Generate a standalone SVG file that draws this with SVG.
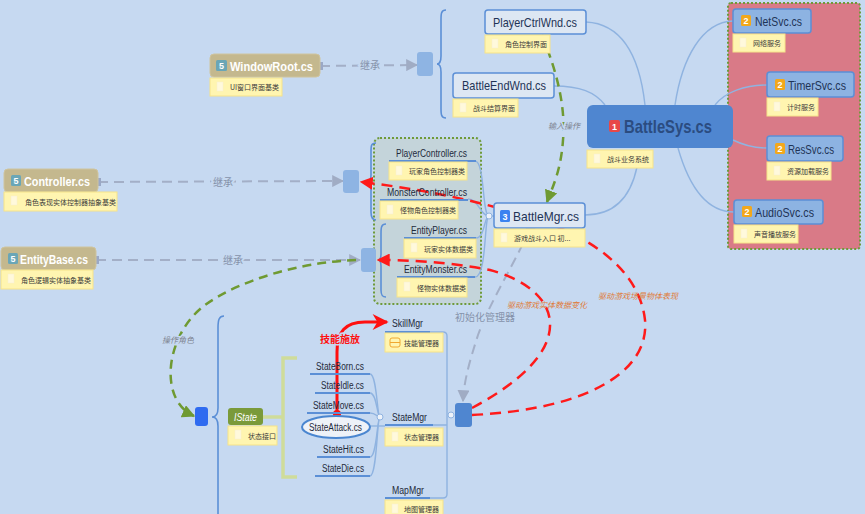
<svg xmlns="http://www.w3.org/2000/svg" width="865" height="514" viewBox="0 0 865 514">
<defs>
<marker id="ag" viewBox="0 0 10 10" refX="9" refY="5" markerWidth="12" markerHeight="12" markerUnits="userSpaceOnUse" orient="auto"><path d="M0,0 L10,5 L0,10 Z" fill="#a0acc4"/></marker>
<marker id="ar" viewBox="0 0 10 10" refX="9" refY="5" markerWidth="13" markerHeight="13" markerUnits="userSpaceOnUse" orient="auto"><path d="M0,0 L10,5 L0,10 Z" fill="#ff1a1a"/></marker>
<marker id="ar2" viewBox="0 0 10 10" refX="9" refY="5" markerWidth="18" markerHeight="16" markerUnits="userSpaceOnUse" orient="auto"><path d="M0,0 L10,5 L0,10 L3,5 Z" fill="#ff1010"/></marker>
<marker id="agr" viewBox="0 0 10 10" refX="9" refY="5" markerWidth="13" markerHeight="13" markerUnits="userSpaceOnUse" orient="auto"><path d="M0,0 L10,5 L0,10 Z" fill="#6f9a32"/></marker>
</defs>
<style>
.note{fill:#fff5b0;stroke:#f6e38a;stroke-width:1}
.ic{fill:#fff9dc;stroke:#f6efd0;stroke-width:.5}
.nt{font-family:"Noto Sans CJK SC",sans-serif;font-size:7px;fill:#3a3a3a}
.tan{fill:#c4b88e;stroke:#cfc49e;stroke-width:1}
.tt{font-family:"Liberation Sans",Arial,sans-serif;font-weight:bold;font-size:13px;fill:#ffffff}
.lt{fill:#dde7f3;stroke:#5b8fd6;stroke-width:1.5}
.svc{fill:#8db3e2;stroke:#5b8fd6;stroke-width:1.5}
.nx{font-family:"Liberation Sans",Arial,sans-serif;font-size:13px;fill:#1f3456}
.sx{font-family:"Liberation Sans",Arial,sans-serif;font-size:10px;fill:#1e2a3a}
.b5{fill:#6aa6b6}
.b2{fill:#f2a81c}
.bd{font-family:"Liberation Sans",Arial,sans-serif;font-weight:bold;font-size:9px;fill:#fff}
.br{fill:none;stroke:#5b8fd6;stroke-width:1.6}
.cl{fill:none;stroke:#8fb3e0;stroke-width:1.4}
.ul{stroke:#5b8fd6;stroke-width:2}
.gd{fill:none;stroke:#a3afc7;stroke-width:2;stroke-dasharray:10 6}
.rd{fill:none;stroke:#ff1a1a;stroke-width:2.5;stroke-dasharray:11 7}
.grd{fill:none;stroke:#6f9a32;stroke-width:2.5;stroke-dasharray:9 6}
.lbl{font-family:"Noto Sans CJK SC",sans-serif;font-size:10px;fill:#8592aa;paint-order:stroke;stroke:#c6d9f1;stroke-width:4}
.il{font-family:"Noto Sans CJK SC",sans-serif;font-size:8px;font-style:italic;fill:#7d8390;paint-order:stroke;stroke:#c6d9f1;stroke-width:3}
.ol{font-family:"Noto Sans CJK SC",sans-serif;font-size:8px;font-style:italic;fill:#e07a36}
.sm{fill:#8eb4e3}
.circ{fill:#eef3fa;stroke:#8fb3e0;stroke-width:1}
</style>
<rect x="0" y="0" width="865" height="514" fill="#c6d9f1"/>

<g id="region-services"><rect x="728" y="3" width="132" height="246" rx="3" fill="#d97a87" stroke="#6e9a3a" stroke-width="2" stroke-dasharray="2 2"/></g>
<g id="region-entities"><rect x="374" y="138" width="107" height="166" rx="6" fill="#c4d4da" stroke="#6e9a3a" stroke-width="2" stroke-dasharray="2 2"/></g>

<g id="connectors">
<path class="cl" d="M645,105 C640,60 625,24 586,22"/>
<path class="cl" d="M605,105 C595,92 580,86 554,86"/>
<path class="cl" d="M675,105 C682,58 702,22 733,21"/>
<path class="cl" d="M715,105 C725,92 745,85 767,85"/>
<path class="cl" d="M733,140 C745,146 755,148 767,148"/>
<path class="cl" d="M678,148 C690,190 708,212 734,212"/>
<path class="cl" d="M637,167 C630,200 612,215 585,215"/>
<path class="br" d="M446,10 C441,10 441,14 441,20 L441,56 C441,61 440,64 437,64 C440,64 441,67 441,72 L441,108 C441,114 441,118 446,118"/>
<path class="br" d="M376,143 C371,143 371,146 371,152 L371,175 C371,179 370,181 368,181 C370,181 371,183 371,187 L371,212 C371,217 372,220 376,220"/>
<path class="br" d="M386,224 C381,224 381,228 381,234 L381,254 C381,258 380,260 378,260 C380,260 381,262 381,266 L381,290 C381,295 382,297 386,297"/>
<path class="br" d="M224,316 C219,316 218,320 218,328 L218,408 C218,414 216,417 212,417 C216,417 218,420 218,426 L218,514"/>
<path class="cl" d="M475,161 C485,161 482,216 489,216"/>
<path class="cl" d="M468,199 C479,199 480,216 489,216"/>
<path class="cl" d="M476,238 C485,238 484,216 489,216"/>
<path class="cl" d="M475,277 C487,277 484,216 489,216"/>
<line class="cl" x1="489" y1="216" x2="494" y2="216"/>
<circle class="circ" cx="489" cy="216" r="3"/>
<path d="M263,417 L283,417 M297,358 L283,358 L283,477 L297,477" fill="none" stroke="#cfdc9a" stroke-width="3.5"/>
<path class="cl" d="M370,374 C377,374 377,417 380,417"/>
<path class="cl" d="M370,393 C377,393 377,417 380,417"/>
<path class="cl" d="M370,413 C376,413 377,417 380,417"/>
<path class="cl" d="M370,426 L385,426"/>
<path class="cl" d="M370,457 C377,457 377,417 380,417"/>
<path class="cl" d="M370,476 C377,476 377,417 380,417"/>
<circle class="circ" cx="380" cy="417" r="3"/>
<path class="cl" d="M430,332 L443,332 Q447,332 447,336 L447,494 Q447,498 443,498 L430,498 M433,425 L447,425"/>
<circle class="circ" cx="451" cy="415" r="3"/>
<path class="gd" d="M320,66 L417,65" marker-end="url(#ag)"/>
<path class="gd" d="M98,182 L343,181" marker-end="url(#ag)"/>
<path class="gd" d="M96,260 L360,260" marker-end="url(#ag)"/>
<path class="gd" d="M530,229 C512,268 490,302 478,335 C470,360 464,380 463,401" marker-end="url(#ag)"/>
<path class="grd" d="M542,35 C556,70 566,105 563,140 C561,170 553,186 547,202" marker-end="url(#agr)"/>
<path class="grd" d="M356,260 C300,262 240,280 205,305 C165,335 158,400 194,416" marker-end="url(#agr)"/>
<path class="rd" d="M472,408 C515,385 552,355 550,322 C548,295 520,278 490,270 C450,262 410,260 378,260" marker-end="url(#ar)"/>
<path class="rd" d="M472,415 C580,410 650,375 645,320 C640,275 600,245 560,228 C500,205 430,190 361,182" marker-end="url(#ar)"/>
<path d="M337,414 L337,352 C337,332 345,322 365,322 L387,322" fill="none" stroke="#ff1010" stroke-width="3" marker-end="url(#ar2)"/>
<circle cx="337" cy="414" r="4" fill="#ff1010"/>
<rect x="316" y="62" width="7" height="8" fill="#9aa8c6"/>
<rect x="94" y="178" width="7" height="8" fill="#9aa8c6"/>
<rect x="92" y="256" width="7" height="8" fill="#9aa8c6"/>
<rect x="527" y="225" width="7" height="7" fill="#9aa8c6" transform="rotate(45 530.5 228.5)"/>
<text class="lbl" x="370" y="69" text-anchor="middle">继承</text>
<text class="lbl" x="223" y="186" text-anchor="middle">继承</text>
<text class="lbl" x="233" y="264" text-anchor="middle">继承</text>
<text class="lbl" x="485" y="321" text-anchor="middle" font-size="11">初始化管理器</text>
<text class="il" x="564" y="129" text-anchor="middle">输入操作</text>
<text class="il" x="178" y="343" text-anchor="middle">操作角色</text>
<text class="ol" x="547" y="308" text-anchor="middle">驱动游戏实体数据变化</text>
<text class="ol" x="638" y="299" text-anchor="middle">驱动游戏场景物体表现</text>
<text x="340" y="343" text-anchor="middle" font-family="Noto Sans CJK SC,sans-serif" font-weight="bold" font-size="10" fill="#ff1010" paint-order="stroke" stroke="#c6d9f1" stroke-width="3">技能施放</text>
</g>

<g id="j-window"><rect class="sm" x="417" y="52" width="16" height="24" rx="3"/></g>
<g id="j-controller"><rect class="sm" x="343" y="170" width="16" height="23" rx="3"/></g>
<g id="j-entity"><rect class="sm" x="361" y="248" width="15" height="24" rx="3"/></g>
<g id="j-state"><rect x="195" y="407" width="13" height="19" rx="3" fill="#2f6bf0"/></g>
<g id="j-mgr"><rect x="455" y="403" width="17" height="24" rx="3" fill="#4f86d0"/></g>

<g id="WindowRoot">
<rect class="tan" x="210" y="54" width="110" height="23" rx="4"/>
<rect class="b5" x="216" y="60" width="11" height="11" rx="1.5"/><text class="bd" x="221.5" y="69" text-anchor="middle">5</text>
<text class="tt" x="230" y="71" textLength="83" lengthAdjust="spacingAndGlyphs">WindowRoot.cs</text>
<rect class="note" x="210" y="78" width="72" height="18"/><rect class="ic" x="217" y="82" width="6" height="9"/>
<text class="nt" x="230" y="90">UI窗口界面基类</text>
</g>

<g id="PlayerCtrlWnd">
<rect class="lt" x="485" y="10" width="101" height="24" rx="3"/>
<text class="nx" x="493" y="27" textLength="84" lengthAdjust="spacingAndGlyphs">PlayerCtrlWnd.cs</text>
<rect class="note" x="485" y="35" width="65" height="18"/><rect class="ic" x="492" y="39" width="6" height="9"/>
<text class="nt" x="505" y="47">角色控制界面</text>
</g>

<g id="BattleEndWnd">
<rect class="lt" x="453" y="73" width="101" height="25" rx="3"/>
<text class="nx" x="462" y="90" textLength="84" lengthAdjust="spacingAndGlyphs">BattleEndWnd.cs</text>
<rect class="note" x="453" y="99" width="65" height="18"/><rect class="ic" x="460" y="103" width="6" height="9"/>
<text class="nt" x="473" y="111">战斗结算界面</text>
</g>

<g id="BattleSys">
<rect x="587" y="105" width="146" height="43" rx="6" fill="#4f86d0"/>
<rect x="609" y="120" width="11" height="12" rx="2" fill="#e84848"/><text class="bd" x="614.5" y="129.5" text-anchor="middle">1</text>
<text x="624" y="133" font-family="Liberation Sans,Arial,sans-serif" font-weight="bold" font-size="19" fill="#2b4c80" textLength="88" lengthAdjust="spacingAndGlyphs">BattleSys.cs</text>
<rect class="note" x="587" y="150" width="66" height="18"/><rect class="ic" x="594" y="154" width="6" height="9"/>
<text class="nt" x="607" y="162">战斗业务系统</text>
</g>

<g id="NetSvc">
<rect class="svc" x="733" y="9" width="78" height="24" rx="3"/>
<rect class="b2" x="741" y="15" width="10" height="11" rx="1.5"/><text class="bd" x="746" y="24" text-anchor="middle">2</text>
<text class="nx" x="755" y="26" textLength="47" lengthAdjust="spacingAndGlyphs">NetSvc.cs</text>
<rect class="note" x="733" y="34" width="52" height="18"/><rect class="ic" x="740" y="38" width="6" height="9"/>
<text class="nt" x="753" y="46">网络服务</text>
</g>

<g id="TimerSvc">
<rect class="svc" x="767" y="72" width="87" height="25" rx="3"/>
<rect class="b2" x="775" y="79" width="10" height="11" rx="1.5"/><text class="bd" x="780" y="88" text-anchor="middle">2</text>
<text class="nx" x="788" y="90" textLength="58" lengthAdjust="spacingAndGlyphs">TimerSvc.cs</text>
<rect class="note" x="767" y="98" width="51" height="18"/><rect class="ic" x="774" y="102" width="6" height="9"/>
<text class="nt" x="787" y="110">计时服务</text>
</g>

<g id="ResSvc">
<rect class="svc" x="767" y="136" width="76" height="25" rx="3"/>
<rect class="b2" x="775" y="143" width="10" height="11" rx="1.5"/><text class="bd" x="780" y="152" text-anchor="middle">2</text>
<text class="nx" x="788" y="154" textLength="46" lengthAdjust="spacingAndGlyphs">ResSvc.cs</text>
<rect class="note" x="767" y="162" width="64" height="18"/><rect class="ic" x="774" y="166" width="6" height="9"/>
<text class="nt" x="787" y="174">资源加载服务</text>
</g>

<g id="AudioSvc">
<rect class="svc" x="734" y="200" width="89" height="24" rx="3"/>
<rect class="b2" x="742" y="206" width="10" height="11" rx="1.5"/><text class="bd" x="747" y="215" text-anchor="middle">2</text>
<text class="nx" x="755" y="217" textLength="59" lengthAdjust="spacingAndGlyphs">AudioSvc.cs</text>
<rect class="note" x="734" y="225" width="64" height="18"/><rect class="ic" x="741" y="229" width="6" height="9"/>
<text class="nt" x="754" y="237">声音播放服务</text>
</g>

<g id="Controller">
<rect class="tan" x="4" y="169" width="94" height="23" rx="4"/>
<rect class="b5" x="11" y="175" width="10" height="11" rx="1.5"/><text class="bd" x="16" y="184" text-anchor="middle">5</text>
<text class="tt" x="24" y="186" textLength="66" lengthAdjust="spacingAndGlyphs">Controller.cs</text>
<rect class="note" x="4" y="192" width="113" height="19"/><rect class="ic" x="11" y="196" width="6" height="9"/>
<text class="nt" x="25" y="205">角色表现实体控制器抽象基类</text>
</g>

<g id="EntityBase">
<rect class="tan" x="1" y="247" width="95" height="23" rx="4"/>
<rect class="b5" x="8" y="253" width="10" height="11" rx="1.5"/><text class="bd" x="13" y="262" text-anchor="middle">5</text>
<text class="tt" x="20" y="264" textLength="68" lengthAdjust="spacingAndGlyphs">EntityBase.cs</text>
<rect class="note" x="1" y="270" width="92" height="19"/><rect class="ic" x="8" y="274" width="6" height="9"/>
<text class="nt" x="21" y="283">角色逻辑实体抽象基类</text>
</g>

<g id="PlayerController">
<text class="sx" x="396" y="157" textLength="71" lengthAdjust="spacingAndGlyphs">PlayerController.cs</text>
<line class="ul" x1="389" y1="161" x2="476" y2="161"/>
<rect class="note" x="389" y="162" width="78" height="18"/><rect class="ic" x="396" y="166" width="6" height="9"/>
<text class="nt" x="409" y="174">玩家角色控制器类</text>
</g>

<g id="MonsterController">
<text class="sx" x="387" y="196" textLength="80" lengthAdjust="spacingAndGlyphs">MonsterController.cs</text>
<line class="ul" x1="380" y1="200" x2="468" y2="200"/>
<rect class="note" x="380" y="201" width="78" height="18"/><rect class="ic" x="387" y="205" width="6" height="9"/>
<text class="nt" x="400" y="213">怪物角色控制器类</text>
</g>

<g id="EntityPlayer">
<text class="sx" x="411" y="234" textLength="56" lengthAdjust="spacingAndGlyphs">EntityPlayer.cs</text>
<line class="ul" x1="404" y1="238" x2="476" y2="238"/>
<rect class="note" x="404" y="239" width="72" height="19"/><rect class="ic" x="411" y="243" width="6" height="9"/>
<text class="nt" x="424" y="252">玩家实体数据类</text>
</g>

<g id="EntityMonster">
<text class="sx" x="404" y="273" textLength="63" lengthAdjust="spacingAndGlyphs">EntityMonster.cs</text>
<line class="ul" x1="397" y1="277" x2="475" y2="277"/>
<rect class="note" x="397" y="278" width="70" height="19"/><rect class="ic" x="404" y="282" width="6" height="9"/>
<text class="nt" x="417" y="291">怪物实体数据类</text>
</g>

<g id="BattleMgr">
<rect class="lt" x="494" y="203" width="91" height="25" rx="3"/>
<rect x="500" y="210" width="10" height="12" rx="1.5" fill="#3b82f0"/><text class="bd" x="505" y="219.5" text-anchor="middle">3</text>
<text class="nx" x="513" y="221" textLength="66" lengthAdjust="spacingAndGlyphs">BattleMgr.cs</text>
<rect class="note" x="494" y="229" width="91" height="18"/><rect class="ic" x="501" y="233" width="6" height="9"/>
<text class="nt" x="514" y="241">游戏战斗入口 初...</text>
</g>

<g id="IState">
<rect x="228" y="408" width="35" height="17" rx="3" fill="#7a9a3a"/>
<text x="234" y="420.5" font-family="Liberation Sans,Arial,sans-serif" font-style="italic" font-size="10" fill="#ffffff" textLength="23" lengthAdjust="spacingAndGlyphs">IState</text>
<rect class="note" x="228" y="426" width="49" height="19"/><rect class="ic" x="235" y="430" width="6" height="9"/>
<text class="nt" x="248" y="439">状态接口</text>
</g>

<g id="StateBorn"><text class="sx" x="316" y="370" textLength="48" lengthAdjust="spacingAndGlyphs">StateBorn.cs</text><line class="ul" x1="310" y1="374" x2="370" y2="374"/></g>
<g id="StateIdle"><text class="sx" x="321" y="389" textLength="43" lengthAdjust="spacingAndGlyphs">StateIdle.cs</text><line class="ul" x1="315" y1="393" x2="370" y2="393"/></g>
<g id="StateMove"><text class="sx" x="313" y="409" textLength="51" lengthAdjust="spacingAndGlyphs">StateMove.cs</text><line class="ul" x1="307" y1="413" x2="370" y2="413"/></g>
<g id="StateAttack"><ellipse cx="336" cy="427" rx="34" ry="11" fill="#eef2f8" stroke="#4a86d0" stroke-width="2"/><text class="sx" x="309" y="430.5" textLength="53" lengthAdjust="spacingAndGlyphs">StateAttack.cs</text></g>
<g id="StateHit"><text class="sx" x="323" y="453" textLength="41" lengthAdjust="spacingAndGlyphs">StateHit.cs</text><line class="ul" x1="317" y1="457" x2="370" y2="457"/></g>
<g id="StateDie"><text class="sx" x="322" y="472" textLength="42" lengthAdjust="spacingAndGlyphs">StateDie.cs</text><line class="ul" x1="315" y1="476" x2="370" y2="476"/></g>

<g id="SkillMgr">
<text class="sx" x="392" y="327" textLength="31" lengthAdjust="spacingAndGlyphs">SkillMgr</text>
<line class="ul" x1="385" y1="332" x2="430" y2="332"/>
<rect class="note" x="385" y="333" width="58" height="19"/>
<rect x="390" y="338" width="10" height="9" rx="2" fill="none" stroke="#f0a830" stroke-width="1"/><line x1="390" y1="342.5" x2="400" y2="342.5" stroke="#f0a830" stroke-width="1"/>
<text class="nt" x="404" y="346">技能管理器</text>
</g>

<g id="StateMgr">
<text class="sx" x="392" y="421" textLength="35" lengthAdjust="spacingAndGlyphs">StateMgr</text>
<line class="ul" x1="385" y1="425" x2="433" y2="425"/>
<rect class="note" x="385" y="428" width="58" height="18"/><rect class="ic" x="392" y="432" width="6" height="9"/>
<text class="nt" x="404" y="440">状态管理器</text>
</g>

<g id="MapMgr">
<text class="sx" x="392" y="494" textLength="32" lengthAdjust="spacingAndGlyphs">MapMgr</text>
<line class="ul" x1="385" y1="498" x2="430" y2="498"/>
<rect class="note" x="385" y="500" width="58" height="18"/><rect class="ic" x="392" y="504" width="6" height="9"/>
<text class="nt" x="404" y="512">地图管理器</text>
</g>
</svg>
